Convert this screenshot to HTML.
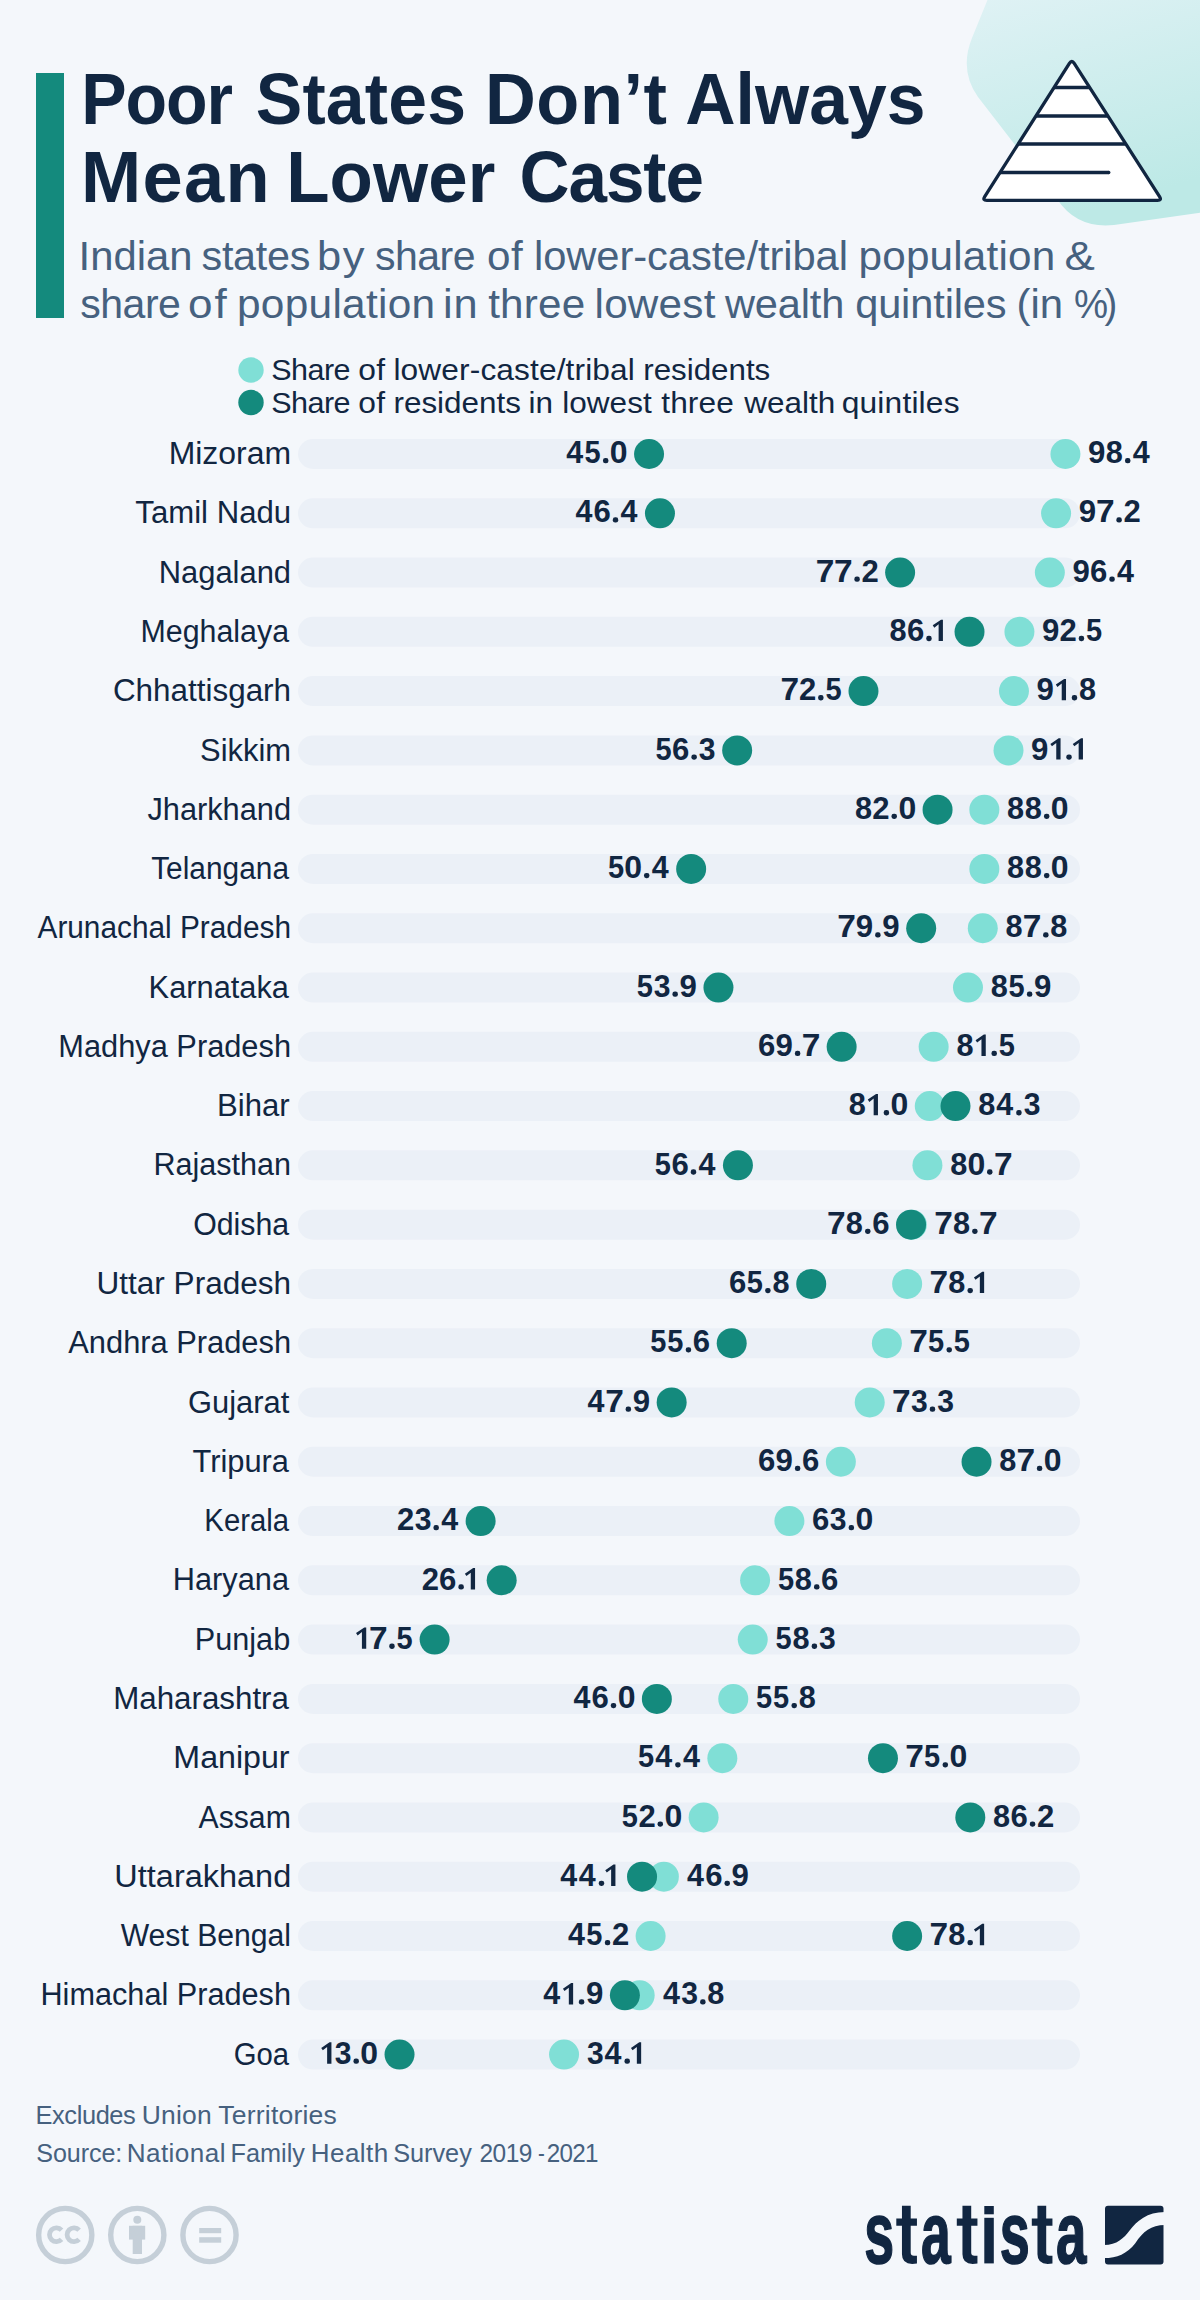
<!DOCTYPE html>
<html><head><meta charset="utf-8"><title>Poor States Don’t Always Mean Lower Caste</title>
<style>
html,body{margin:0;padding:0;background:#f4f7fb;}
body{width:1200px;height:2300px;overflow:hidden;}
svg{display:block;font-family:"Liberation Sans",sans-serif;}
</style></head><body>
<svg width="1200" height="2300" viewBox="0 0 1200 2300">
<rect width="1200" height="2300" fill="#f4f7fb"/>
<defs><linearGradient id="bg1" x1="0" y1="0" x2="0.3" y2="1"><stop offset="0" stop-color="#e0f2f5"/><stop offset="1" stop-color="#bde9e6"/></linearGradient></defs>
<path d="M 989.5,-5 L 972,38 Q 959,70 978,97 L 1057,199 Q 1077,229 1114,225 L 1205,212 L 1205,-5 Z" fill="url(#bg1)"/>
<path d="M1069.39,63.40 Q1071.80,59.60 1074.23,63.39 L1159.57,196.61 Q1162.00,200.40 1157.50,200.40 L986.80,200.40 Q982.30,200.40 984.71,196.60 Z" fill="#ffffff" stroke="#112641" stroke-width="3.3" stroke-linejoin="round"/>
<path d="M1054.07,87.5 L1089.67,87.5 M1035.95,116 L1107.93,116 M1018.15,144 L1125.87,144 M1000.03,172.5 L1108.80,172.5" fill="none" stroke="#112641" stroke-width="3.3" stroke-linecap="butt"/>
<circle cx="1108.8" cy="172.5" r="1.65" fill="#112641"/>
<rect x="36" y="73" width="28" height="245" fill="#148a7d"/>
<text transform="translate(81.28,123.75) scale(0.9360,1)" font-size="72.7" font-weight="700" fill="#112641" letter-spacing="-1.143">Poor</text>
<text transform="translate(255.71,123.75) scale(0.9604,1)" font-size="72.7" font-weight="700" fill="#112641" letter-spacing="0.172">States</text>
<text transform="translate(485.03,123.75) scale(0.9681,1)" font-size="72.7" font-weight="700" fill="#112641" letter-spacing="0.544">Don’t</text>
<text transform="translate(685.26,123.75) scale(0.9579,1)" font-size="72.7" font-weight="700" fill="#112641" letter-spacing="0.068">Always</text>
<text transform="translate(81.00,201.50) scale(0.9947,1)" font-size="72.7" font-weight="700" fill="#112641" letter-spacing="1.263">Mean</text>
<text transform="translate(286.19,201.50) scale(0.9757,1)" font-size="72.7" font-weight="700" fill="#112641" letter-spacing="0.097">Lower</text>
<text transform="translate(519.43,201.50) scale(0.9523,1)" font-size="72.7" font-weight="700" fill="#112641" letter-spacing="-1.067">Caste</text>
<text transform="translate(78.53,269.50) scale(1.0085,1)" font-size="41.5" font-weight="400" fill="#46617f" letter-spacing="-0.012">Indian</text>
<text transform="translate(201.56,269.50) scale(0.9956,1)" font-size="41.5" font-weight="400" fill="#46617f" letter-spacing="-0.288">states</text>
<text transform="translate(316.97,269.50) scale(1.0478,1)" font-size="41.5" font-weight="400" fill="#46617f" letter-spacing="1.577">by</text>
<text transform="translate(374.97,269.50) scale(0.9887,1)" font-size="41.5" font-weight="400" fill="#46617f" letter-spacing="-0.507">share</text>
<text transform="translate(487.11,269.50) scale(1.0182,1)" font-size="41.5" font-weight="400" fill="#46617f" letter-spacing="0.300">of</text>
<text transform="translate(533.99,269.50) scale(1.0051,1)" font-size="41.5" font-weight="400" fill="#46617f" letter-spacing="-0.071">lower-caste/tribal</text>
<text transform="translate(858.55,269.50) scale(1.0181,1)" font-size="41.5" font-weight="400" fill="#46617f" letter-spacing="0.186">population</text>
<text transform="translate(1064.41,269.50) scale(1.0971,1)" font-size="41.5" font-weight="400" fill="#46617f" letter-spacing="0.000">&amp;</text>
<text transform="translate(80.27,317.50) scale(0.9883,1)" font-size="41.5" font-weight="400" fill="#46617f" letter-spacing="-0.496">share</text>
<text transform="translate(188.04,317.50) scale(1.0619,1)" font-size="41.5" font-weight="400" fill="#46617f" letter-spacing="1.757">of</text>
<text transform="translate(236.94,317.50) scale(1.0219,1)" font-size="41.5" font-weight="400" fill="#46617f" letter-spacing="0.282">population</text>
<text transform="translate(442.88,317.50) scale(1.0469,1)" font-size="41.5" font-weight="400" fill="#46617f" letter-spacing="1.029">in</text>
<text transform="translate(488.17,317.50) scale(1.0169,1)" font-size="41.5" font-weight="400" fill="#46617f" letter-spacing="0.200">three</text>
<text transform="translate(594.55,317.50) scale(1.0178,1)" font-size="41.5" font-weight="400" fill="#46617f" letter-spacing="0.220">lowest</text>
<text transform="translate(725.00,317.50) scale(1.0018,1)" font-size="41.5" font-weight="400" fill="#46617f" letter-spacing="-0.149">wealth</text>
<text transform="translate(855.14,317.50) scale(1.0017,1)" font-size="41.5" font-weight="400" fill="#46617f" letter-spacing="-0.119">quintiles</text>
<text transform="translate(1016.49,317.50) scale(1.0093,1)" font-size="41.5" font-weight="400" fill="#46617f" letter-spacing="0.022">(in</text>
<text transform="translate(1073.96,317.50) scale(0.9247,1)" font-size="41.5" font-weight="400" fill="#46617f" letter-spacing="-3.864">%)</text>
<circle cx="251" cy="370" r="12.7" fill="#80dfd6"/>
<circle cx="251" cy="402.5" r="12.7" fill="#148a7d"/>
<text transform="translate(271.33,379.80) scale(1.0515,1)" font-size="29" font-weight="400" fill="#112641" letter-spacing="-0.527">Share</text>
<text transform="translate(358.23,379.80) scale(1.0940,1)" font-size="29" font-weight="400" fill="#112641" letter-spacing="0.254">of</text>
<text transform="translate(393.44,379.80) scale(1.0918,1)" font-size="29" font-weight="400" fill="#112641" letter-spacing="0.114">lower-caste/tribal</text>
<text transform="translate(643.26,379.80) scale(1.0809,1)" font-size="29" font-weight="400" fill="#112641" letter-spacing="-0.015">residents</text>
<text transform="translate(271.33,412.50) scale(1.0526,1)" font-size="29" font-weight="400" fill="#112641" letter-spacing="-0.547">Share</text>
<text transform="translate(358.23,412.50) scale(1.0952,1)" font-size="29" font-weight="400" fill="#112641" letter-spacing="0.229">of</text>
<text transform="translate(393.46,412.50) scale(1.0843,1)" font-size="29" font-weight="400" fill="#112641" letter-spacing="-0.002">residents</text>
<text transform="translate(528.46,412.50) scale(1.0848,1)" font-size="29" font-weight="400" fill="#112641" letter-spacing="0.007">in</text>
<text transform="translate(562.15,412.50) scale(1.0876,1)" font-size="29" font-weight="400" fill="#112641" letter-spacing="0.046">lowest</text>
<text transform="translate(661.22,412.50) scale(1.0920,1)" font-size="29" font-weight="400" fill="#112641" letter-spacing="0.113">three</text>
<text transform="translate(744.20,412.50) scale(1.0860,1)" font-size="29" font-weight="400" fill="#112641" letter-spacing="0.024">wealth</text>
<text transform="translate(841.73,412.50) scale(1.0961,1)" font-size="29" font-weight="400" fill="#112641" letter-spacing="0.140">quintiles</text>
<rect x="298" y="439.00" width="782" height="30" rx="15" fill="#ebf0f7"/>
<text x="168.65" y="464.10" font-size="30.6" font-weight="400" fill="#112641" textLength="122.39" lengthAdjust="spacingAndGlyphs">Mizoram</text>
<circle cx="1065.43" cy="454.00" r="15" fill="#80dfd6"/>
<circle cx="649.05" cy="454.00" r="15" fill="#148a7d"/>
<text transform="translate(566.19,463.20) scale(0.9828,1)" font-size="31.0" font-weight="700" fill="#112641">4</text>
<text transform="translate(584.48,463.20) scale(0.9355,1)" font-size="31.0" font-weight="700" fill="#112641">5</text>
<rect x="602.95" y="458.00" width="5.5" height="5.3" rx="2.4" fill="#112641"/>
<text transform="translate(609.87,463.20) scale(1.0323,1)" font-size="31.0" font-weight="700" fill="#112641">0</text>
<text transform="translate(1088.04,463.20) scale(1.0076,1)" font-size="31.0" font-weight="700" fill="#112641">9</text>
<text transform="translate(1105.76,463.20) scale(0.9906,1)" font-size="31.0" font-weight="700" fill="#112641">8</text>
<rect x="1124.98" y="458.00" width="5.5" height="5.3" rx="2.4" fill="#112641"/>
<text transform="translate(1132.73,463.20) scale(0.9828,1)" font-size="31.0" font-weight="700" fill="#112641">4</text>
<rect x="298" y="498.28" width="782" height="30" rx="15" fill="#ebf0f7"/>
<text x="135.38" y="523.38" font-size="30.6" font-weight="400" fill="#112641" textLength="155.71" lengthAdjust="spacingAndGlyphs">Tamil Nadu</text>
<circle cx="1056.08" cy="513.28" r="15" fill="#80dfd6"/>
<circle cx="659.96" cy="513.28" r="15" fill="#148a7d"/>
<text transform="translate(575.41,522.48) scale(0.9828,1)" font-size="31.0" font-weight="700" fill="#112641">4</text>
<text transform="translate(593.47,522.48) scale(1.0043,1)" font-size="31.0" font-weight="700" fill="#112641">6</text>
<rect x="612.76" y="517.28" width="5.5" height="5.3" rx="2.4" fill="#112641"/>
<text transform="translate(620.51,522.48) scale(0.9828,1)" font-size="31.0" font-weight="700" fill="#112641">4</text>
<text transform="translate(1078.68,522.48) scale(1.0076,1)" font-size="31.0" font-weight="700" fill="#112641">9</text>
<text transform="translate(1095.99,522.48) scale(1.0798,1)" font-size="31.0" font-weight="700" fill="#112641">7</text>
<rect x="1116.33" y="517.28" width="5.5" height="5.3" rx="2.4" fill="#112641"/>
<text transform="translate(1123.44,522.48) scale(1.0013,1)" font-size="31.0" font-weight="700" fill="#112641">2</text>
<rect x="298" y="557.56" width="782" height="30" rx="15" fill="#ebf0f7"/>
<text x="158.73" y="582.66" font-size="30.6" font-weight="400" fill="#112641" textLength="132.32" lengthAdjust="spacingAndGlyphs">Nagaland</text>
<circle cx="1049.84" cy="572.56" r="15" fill="#80dfd6"/>
<circle cx="900.13" cy="572.56" r="15" fill="#148a7d"/>
<text transform="translate(815.69,581.76) scale(1.0798,1)" font-size="31.0" font-weight="700" fill="#112641">7</text>
<text transform="translate(833.99,581.76) scale(1.0798,1)" font-size="31.0" font-weight="700" fill="#112641">7</text>
<rect x="854.33" y="576.56" width="5.5" height="5.3" rx="2.4" fill="#112641"/>
<text transform="translate(861.44,581.76) scale(1.0013,1)" font-size="31.0" font-weight="700" fill="#112641">2</text>
<text transform="translate(1072.45,581.76) scale(1.0076,1)" font-size="31.0" font-weight="700" fill="#112641">9</text>
<text transform="translate(1090.00,581.76) scale(1.0043,1)" font-size="31.0" font-weight="700" fill="#112641">6</text>
<rect x="1109.29" y="576.56" width="5.5" height="5.3" rx="2.4" fill="#112641"/>
<text transform="translate(1117.03,581.76) scale(0.9828,1)" font-size="31.0" font-weight="700" fill="#112641">4</text>
<rect x="298" y="616.84" width="782" height="30" rx="15" fill="#ebf0f7"/>
<text x="140.57" y="641.94" font-size="30.6" font-weight="400" fill="#112641" textLength="148.50" lengthAdjust="spacingAndGlyphs">Meghalaya</text>
<circle cx="1019.43" cy="631.84" r="15" fill="#80dfd6"/>
<circle cx="969.52" cy="631.84" r="15" fill="#148a7d"/>
<text transform="translate(889.50,641.04) scale(0.9906,1)" font-size="31.0" font-weight="700" fill="#112641">8</text>
<text transform="translate(906.94,641.04) scale(1.0043,1)" font-size="31.0" font-weight="700" fill="#112641">6</text>
<rect x="926.22" y="635.84" width="5.5" height="5.3" rx="2.4" fill="#112641"/>
<path d="M941.02,619.64 L942.92,619.64 L942.92,641.04 L938.62,641.04 L938.62,624.34 L934.32,627.64 L932.72,625.34 Z" fill="#112641"/>
<text transform="translate(1042.04,641.04) scale(1.0076,1)" font-size="31.0" font-weight="700" fill="#112641">9</text>
<text transform="translate(1059.59,641.04) scale(1.0013,1)" font-size="31.0" font-weight="700" fill="#112641">2</text>
<rect x="1078.68" y="635.84" width="5.5" height="5.3" rx="2.4" fill="#112641"/>
<text transform="translate(1086.01,641.04) scale(0.9355,1)" font-size="31.0" font-weight="700" fill="#112641">5</text>
<rect x="298" y="676.12" width="782" height="30" rx="15" fill="#ebf0f7"/>
<text x="112.93" y="701.22" font-size="30.6" font-weight="400" fill="#112641" textLength="178.11" lengthAdjust="spacingAndGlyphs">Chhattisgarh</text>
<circle cx="1013.97" cy="691.12" r="15" fill="#80dfd6"/>
<circle cx="863.48" cy="691.12" r="15" fill="#148a7d"/>
<text transform="translate(780.44,700.32) scale(1.0798,1)" font-size="31.0" font-weight="700" fill="#112641">7</text>
<text transform="translate(798.99,700.32) scale(1.0013,1)" font-size="31.0" font-weight="700" fill="#112641">2</text>
<rect x="818.08" y="695.12" width="5.5" height="5.3" rx="2.4" fill="#112641"/>
<text transform="translate(825.41,700.32) scale(0.9355,1)" font-size="31.0" font-weight="700" fill="#112641">5</text>
<text transform="translate(1036.58,700.32) scale(1.0076,1)" font-size="31.0" font-weight="700" fill="#112641">9</text>
<path d="M1064.12,678.92 L1066.02,678.92 L1066.02,700.32 L1061.72,700.32 L1061.72,683.62 L1057.42,686.92 L1055.82,684.62 Z" fill="#112641"/>
<rect x="1071.72" y="695.12" width="5.5" height="5.3" rx="2.4" fill="#112641"/>
<text transform="translate(1079.00,700.32) scale(0.9906,1)" font-size="31.0" font-weight="700" fill="#112641">8</text>
<rect x="298" y="735.40" width="782" height="30" rx="15" fill="#ebf0f7"/>
<text x="200.11" y="760.50" font-size="30.6" font-weight="400" fill="#112641" textLength="90.88" lengthAdjust="spacingAndGlyphs">Sikkim</text>
<circle cx="1008.51" cy="750.40" r="15" fill="#80dfd6"/>
<circle cx="737.16" cy="750.40" r="15" fill="#148a7d"/>
<text transform="translate(655.39,759.60) scale(0.9355,1)" font-size="31.0" font-weight="700" fill="#112641">5</text>
<text transform="translate(672.07,759.60) scale(1.0043,1)" font-size="31.0" font-weight="700" fill="#112641">6</text>
<rect x="691.36" y="754.40" width="5.5" height="5.3" rx="2.4" fill="#112641"/>
<text transform="translate(698.81,759.60) scale(0.9710,1)" font-size="31.0" font-weight="700" fill="#112641">3</text>
<text transform="translate(1031.12,759.60) scale(1.0076,1)" font-size="31.0" font-weight="700" fill="#112641">9</text>
<path d="M1058.66,738.20 L1060.56,738.20 L1060.56,759.60 L1056.26,759.60 L1056.26,742.90 L1051.96,746.20 L1050.36,743.90 Z" fill="#112641"/>
<rect x="1066.26" y="754.40" width="5.5" height="5.3" rx="2.4" fill="#112641"/>
<path d="M1081.06,738.20 L1082.96,738.20 L1082.96,759.60 L1078.66,759.60 L1078.66,742.90 L1074.36,746.20 L1072.76,743.90 Z" fill="#112641"/>
<rect x="298" y="794.68" width="782" height="30" rx="15" fill="#ebf0f7"/>
<text x="147.44" y="819.78" font-size="30.6" font-weight="400" fill="#112641" textLength="143.56" lengthAdjust="spacingAndGlyphs">Jharkhand</text>
<circle cx="984.34" cy="809.68" r="15" fill="#80dfd6"/>
<circle cx="937.56" cy="809.68" r="15" fill="#148a7d"/>
<text transform="translate(854.93,818.88) scale(0.9906,1)" font-size="31.0" font-weight="700" fill="#112641">8</text>
<text transform="translate(872.37,818.88) scale(1.0013,1)" font-size="31.0" font-weight="700" fill="#112641">2</text>
<rect x="891.46" y="813.68" width="5.5" height="5.3" rx="2.4" fill="#112641"/>
<text transform="translate(898.38,818.88) scale(1.0323,1)" font-size="31.0" font-weight="700" fill="#112641">0</text>
<text transform="translate(1007.12,818.88) scale(0.9906,1)" font-size="31.0" font-weight="700" fill="#112641">8</text>
<text transform="translate(1024.72,818.88) scale(0.9906,1)" font-size="31.0" font-weight="700" fill="#112641">8</text>
<rect x="1043.94" y="813.68" width="5.5" height="5.3" rx="2.4" fill="#112641"/>
<text transform="translate(1050.86,818.88) scale(1.0323,1)" font-size="31.0" font-weight="700" fill="#112641">0</text>
<rect x="298" y="853.96" width="782" height="30" rx="15" fill="#ebf0f7"/>
<text x="151.20" y="879.06" font-size="30.6" font-weight="400" fill="#112641" textLength="137.81" lengthAdjust="spacingAndGlyphs">Telangana</text>
<circle cx="984.34" cy="868.96" r="15" fill="#80dfd6"/>
<circle cx="691.15" cy="868.96" r="15" fill="#148a7d"/>
<text transform="translate(607.88,878.16) scale(0.9355,1)" font-size="31.0" font-weight="700" fill="#112641">5</text>
<text transform="translate(624.37,878.16) scale(1.0323,1)" font-size="31.0" font-weight="700" fill="#112641">0</text>
<rect x="643.95" y="872.96" width="5.5" height="5.3" rx="2.4" fill="#112641"/>
<text transform="translate(651.70,878.16) scale(0.9828,1)" font-size="31.0" font-weight="700" fill="#112641">4</text>
<text transform="translate(1007.12,878.16) scale(0.9906,1)" font-size="31.0" font-weight="700" fill="#112641">8</text>
<text transform="translate(1024.72,878.16) scale(0.9906,1)" font-size="31.0" font-weight="700" fill="#112641">8</text>
<rect x="1043.94" y="872.96" width="5.5" height="5.3" rx="2.4" fill="#112641"/>
<text transform="translate(1050.86,878.16) scale(1.0323,1)" font-size="31.0" font-weight="700" fill="#112641">0</text>
<rect x="298" y="913.24" width="782" height="30" rx="15" fill="#ebf0f7"/>
<text x="37.50" y="938.34" font-size="30.6" font-weight="400" fill="#112641" textLength="253.46" lengthAdjust="spacingAndGlyphs">Arunachal Pradesh</text>
<circle cx="982.78" cy="928.24" r="15" fill="#80dfd6"/>
<circle cx="921.18" cy="928.24" r="15" fill="#148a7d"/>
<text transform="translate(837.24,937.44) scale(1.0798,1)" font-size="31.0" font-weight="700" fill="#112641">7</text>
<text transform="translate(855.79,937.44) scale(1.0076,1)" font-size="31.0" font-weight="700" fill="#112641">9</text>
<rect x="875.13" y="932.24" width="5.5" height="5.3" rx="2.4" fill="#112641"/>
<text transform="translate(882.24,937.44) scale(1.0076,1)" font-size="31.0" font-weight="700" fill="#112641">9</text>
<text transform="translate(1005.56,937.44) scale(0.9906,1)" font-size="31.0" font-weight="700" fill="#112641">8</text>
<text transform="translate(1022.74,937.44) scale(1.0798,1)" font-size="31.0" font-weight="700" fill="#112641">7</text>
<rect x="1043.08" y="932.24" width="5.5" height="5.3" rx="2.4" fill="#112641"/>
<text transform="translate(1050.36,937.44) scale(0.9906,1)" font-size="31.0" font-weight="700" fill="#112641">8</text>
<rect x="298" y="972.52" width="782" height="30" rx="15" fill="#ebf0f7"/>
<text x="148.64" y="997.62" font-size="30.6" font-weight="400" fill="#112641" textLength="140.32" lengthAdjust="spacingAndGlyphs">Karnataka</text>
<circle cx="967.97" cy="987.52" r="15" fill="#80dfd6"/>
<circle cx="718.45" cy="987.52" r="15" fill="#148a7d"/>
<text transform="translate(636.63,996.72) scale(0.9355,1)" font-size="31.0" font-weight="700" fill="#112641">5</text>
<text transform="translate(653.64,996.72) scale(0.9710,1)" font-size="31.0" font-weight="700" fill="#112641">3</text>
<rect x="672.40" y="991.52" width="5.5" height="5.3" rx="2.4" fill="#112641"/>
<text transform="translate(679.50,996.72) scale(1.0076,1)" font-size="31.0" font-weight="700" fill="#112641">9</text>
<text transform="translate(990.74,996.72) scale(0.9906,1)" font-size="31.0" font-weight="700" fill="#112641">8</text>
<text transform="translate(1008.40,996.72) scale(0.9355,1)" font-size="31.0" font-weight="700" fill="#112641">5</text>
<rect x="1026.87" y="991.52" width="5.5" height="5.3" rx="2.4" fill="#112641"/>
<text transform="translate(1033.97,996.72) scale(1.0076,1)" font-size="31.0" font-weight="700" fill="#112641">9</text>
<rect x="298" y="1031.80" width="782" height="30" rx="15" fill="#ebf0f7"/>
<text x="58.34" y="1056.90" font-size="30.6" font-weight="400" fill="#112641" textLength="232.67" lengthAdjust="spacingAndGlyphs">Madhya Pradesh</text>
<circle cx="933.66" cy="1046.80" r="15" fill="#80dfd6"/>
<circle cx="841.65" cy="1046.80" r="15" fill="#148a7d"/>
<text transform="translate(758.01,1056.00) scale(1.0043,1)" font-size="31.0" font-weight="700" fill="#112641">6</text>
<text transform="translate(775.50,1056.00) scale(1.0076,1)" font-size="31.0" font-weight="700" fill="#112641">9</text>
<rect x="794.85" y="1050.80" width="5.5" height="5.3" rx="2.4" fill="#112641"/>
<text transform="translate(801.71,1056.00) scale(1.0798,1)" font-size="31.0" font-weight="700" fill="#112641">7</text>
<text transform="translate(956.44,1056.00) scale(0.9906,1)" font-size="31.0" font-weight="700" fill="#112641">8</text>
<path d="M983.86,1034.60 L985.76,1034.60 L985.76,1056.00 L981.46,1056.00 L981.46,1039.30 L977.16,1042.60 L975.56,1040.30 Z" fill="#112641"/>
<rect x="991.46" y="1050.80" width="5.5" height="5.3" rx="2.4" fill="#112641"/>
<text transform="translate(998.79,1056.00) scale(0.9355,1)" font-size="31.0" font-weight="700" fill="#112641">5</text>
<rect x="298" y="1091.08" width="782" height="30" rx="15" fill="#ebf0f7"/>
<text x="217.01" y="1116.18" font-size="30.6" font-weight="400" fill="#112641" textLength="72.60" lengthAdjust="spacingAndGlyphs">Bihar</text>
<circle cx="929.76" cy="1106.08" r="15" fill="#80dfd6"/>
<circle cx="955.49" cy="1106.08" r="15" fill="#148a7d"/>
<text transform="translate(848.64,1115.28) scale(0.9906,1)" font-size="31.0" font-weight="700" fill="#112641">8</text>
<path d="M876.06,1093.88 L877.96,1093.88 L877.96,1115.28 L873.66,1115.28 L873.66,1098.58 L869.36,1101.88 L867.76,1099.58 Z" fill="#112641"/>
<rect x="883.66" y="1110.08" width="5.5" height="5.3" rx="2.4" fill="#112641"/>
<text transform="translate(890.58,1115.28) scale(1.0323,1)" font-size="31.0" font-weight="700" fill="#112641">0</text>
<text transform="translate(978.27,1115.28) scale(0.9906,1)" font-size="31.0" font-weight="700" fill="#112641">8</text>
<text transform="translate(996.33,1115.28) scale(0.9828,1)" font-size="31.0" font-weight="700" fill="#112641">4</text>
<rect x="1016.19" y="1110.08" width="5.5" height="5.3" rx="2.4" fill="#112641"/>
<text transform="translate(1023.64,1115.28) scale(0.9710,1)" font-size="31.0" font-weight="700" fill="#112641">3</text>
<rect x="298" y="1150.36" width="782" height="30" rx="15" fill="#ebf0f7"/>
<text x="153.56" y="1175.46" font-size="30.6" font-weight="400" fill="#112641" textLength="137.52" lengthAdjust="spacingAndGlyphs">Rajasthan</text>
<circle cx="927.42" cy="1165.36" r="15" fill="#80dfd6"/>
<circle cx="737.94" cy="1165.36" r="15" fill="#148a7d"/>
<text transform="translate(654.77,1174.56) scale(0.9355,1)" font-size="31.0" font-weight="700" fill="#112641">5</text>
<text transform="translate(671.45,1174.56) scale(1.0043,1)" font-size="31.0" font-weight="700" fill="#112641">6</text>
<rect x="690.74" y="1169.36" width="5.5" height="5.3" rx="2.4" fill="#112641"/>
<text transform="translate(698.48,1174.56) scale(0.9828,1)" font-size="31.0" font-weight="700" fill="#112641">4</text>
<text transform="translate(950.20,1174.56) scale(0.9906,1)" font-size="31.0" font-weight="700" fill="#112641">8</text>
<text transform="translate(967.44,1174.56) scale(1.0323,1)" font-size="31.0" font-weight="700" fill="#112641">0</text>
<rect x="987.02" y="1169.36" width="5.5" height="5.3" rx="2.4" fill="#112641"/>
<text transform="translate(993.88,1174.56) scale(1.0798,1)" font-size="31.0" font-weight="700" fill="#112641">7</text>
<rect x="298" y="1209.64" width="782" height="30" rx="15" fill="#ebf0f7"/>
<text x="193.14" y="1234.74" font-size="30.6" font-weight="400" fill="#112641" textLength="95.97" lengthAdjust="spacingAndGlyphs">Odisha</text>
<circle cx="911.82" cy="1224.64" r="15" fill="#80dfd6"/>
<circle cx="911.04" cy="1224.64" r="15" fill="#148a7d"/>
<text transform="translate(827.10,1233.84) scale(1.0798,1)" font-size="31.0" font-weight="700" fill="#112641">7</text>
<text transform="translate(845.82,1233.84) scale(0.9906,1)" font-size="31.0" font-weight="700" fill="#112641">8</text>
<rect x="865.04" y="1228.64" width="5.5" height="5.3" rx="2.4" fill="#112641"/>
<text transform="translate(872.15,1233.84) scale(1.0043,1)" font-size="31.0" font-weight="700" fill="#112641">6</text>
<text transform="translate(934.18,1233.84) scale(1.0798,1)" font-size="31.0" font-weight="700" fill="#112641">7</text>
<text transform="translate(952.90,1233.84) scale(0.9906,1)" font-size="31.0" font-weight="700" fill="#112641">8</text>
<rect x="972.12" y="1228.64" width="5.5" height="5.3" rx="2.4" fill="#112641"/>
<text transform="translate(978.98,1233.84) scale(1.0798,1)" font-size="31.0" font-weight="700" fill="#112641">7</text>
<rect x="298" y="1268.92" width="782" height="30" rx="15" fill="#ebf0f7"/>
<text x="96.54" y="1294.02" font-size="30.6" font-weight="400" fill="#112641" textLength="194.50" lengthAdjust="spacingAndGlyphs">Uttar Pradesh</text>
<circle cx="907.14" cy="1283.92" r="15" fill="#80dfd6"/>
<circle cx="811.24" cy="1283.92" r="15" fill="#148a7d"/>
<text transform="translate(728.95,1293.12) scale(1.0043,1)" font-size="31.0" font-weight="700" fill="#112641">6</text>
<text transform="translate(746.67,1293.12) scale(0.9355,1)" font-size="31.0" font-weight="700" fill="#112641">5</text>
<rect x="765.14" y="1287.92" width="5.5" height="5.3" rx="2.4" fill="#112641"/>
<text transform="translate(772.41,1293.12) scale(0.9906,1)" font-size="31.0" font-weight="700" fill="#112641">8</text>
<text transform="translate(929.51,1293.12) scale(1.0798,1)" font-size="31.0" font-weight="700" fill="#112641">7</text>
<text transform="translate(948.22,1293.12) scale(0.9906,1)" font-size="31.0" font-weight="700" fill="#112641">8</text>
<rect x="967.44" y="1287.92" width="5.5" height="5.3" rx="2.4" fill="#112641"/>
<path d="M982.24,1271.72 L984.14,1271.72 L984.14,1293.12 L979.84,1293.12 L979.84,1276.42 L975.54,1279.72 L973.94,1277.42 Z" fill="#112641"/>
<rect x="298" y="1328.20" width="782" height="30" rx="15" fill="#ebf0f7"/>
<text x="68.30" y="1353.30" font-size="30.6" font-weight="400" fill="#112641" textLength="222.78" lengthAdjust="spacingAndGlyphs">Andhra Pradesh</text>
<circle cx="886.87" cy="1343.20" r="15" fill="#80dfd6"/>
<circle cx="731.70" cy="1343.20" r="15" fill="#148a7d"/>
<text transform="translate(650.33,1352.40) scale(0.9355,1)" font-size="31.0" font-weight="700" fill="#112641">5</text>
<text transform="translate(667.23,1352.40) scale(0.9355,1)" font-size="31.0" font-weight="700" fill="#112641">5</text>
<rect x="685.70" y="1347.20" width="5.5" height="5.3" rx="2.4" fill="#112641"/>
<text transform="translate(692.81,1352.40) scale(1.0043,1)" font-size="31.0" font-weight="700" fill="#112641">6</text>
<text transform="translate(909.23,1352.40) scale(1.0798,1)" font-size="31.0" font-weight="700" fill="#112641">7</text>
<text transform="translate(928.00,1352.40) scale(0.9355,1)" font-size="31.0" font-weight="700" fill="#112641">5</text>
<rect x="946.47" y="1347.20" width="5.5" height="5.3" rx="2.4" fill="#112641"/>
<text transform="translate(953.80,1352.40) scale(0.9355,1)" font-size="31.0" font-weight="700" fill="#112641">5</text>
<rect x="298" y="1387.48" width="782" height="30" rx="15" fill="#ebf0f7"/>
<text x="188.06" y="1412.58" font-size="30.6" font-weight="400" fill="#112641" textLength="101.23" lengthAdjust="spacingAndGlyphs">Gujarat</text>
<circle cx="869.72" cy="1402.48" r="15" fill="#80dfd6"/>
<circle cx="671.66" cy="1402.48" r="15" fill="#148a7d"/>
<text transform="translate(587.45,1411.68) scale(0.9828,1)" font-size="31.0" font-weight="700" fill="#112641">4</text>
<text transform="translate(605.27,1411.68) scale(1.0798,1)" font-size="31.0" font-weight="700" fill="#112641">7</text>
<rect x="625.61" y="1406.48" width="5.5" height="5.3" rx="2.4" fill="#112641"/>
<text transform="translate(632.72,1411.68) scale(1.0076,1)" font-size="31.0" font-weight="700" fill="#112641">9</text>
<text transform="translate(892.08,1411.68) scale(1.0798,1)" font-size="31.0" font-weight="700" fill="#112641">7</text>
<text transform="translate(910.96,1411.68) scale(0.9710,1)" font-size="31.0" font-weight="700" fill="#112641">3</text>
<rect x="929.72" y="1406.48" width="5.5" height="5.3" rx="2.4" fill="#112641"/>
<text transform="translate(937.16,1411.68) scale(0.9710,1)" font-size="31.0" font-weight="700" fill="#112641">3</text>
<rect x="298" y="1446.76" width="782" height="30" rx="15" fill="#ebf0f7"/>
<text x="192.48" y="1471.86" font-size="30.6" font-weight="400" fill="#112641" textLength="96.53" lengthAdjust="spacingAndGlyphs">Tripura</text>
<circle cx="840.87" cy="1461.76" r="15" fill="#80dfd6"/>
<circle cx="976.54" cy="1461.76" r="15" fill="#148a7d"/>
<text transform="translate(758.03,1470.96) scale(1.0043,1)" font-size="31.0" font-weight="700" fill="#112641">6</text>
<text transform="translate(775.52,1470.96) scale(1.0076,1)" font-size="31.0" font-weight="700" fill="#112641">9</text>
<rect x="794.87" y="1465.76" width="5.5" height="5.3" rx="2.4" fill="#112641"/>
<text transform="translate(801.98,1470.96) scale(1.0043,1)" font-size="31.0" font-weight="700" fill="#112641">6</text>
<text transform="translate(999.32,1470.96) scale(0.9906,1)" font-size="31.0" font-weight="700" fill="#112641">8</text>
<text transform="translate(1016.50,1470.96) scale(1.0798,1)" font-size="31.0" font-weight="700" fill="#112641">7</text>
<rect x="1036.84" y="1465.76" width="5.5" height="5.3" rx="2.4" fill="#112641"/>
<text transform="translate(1043.76,1470.96) scale(1.0323,1)" font-size="31.0" font-weight="700" fill="#112641">0</text>
<rect x="298" y="1506.04" width="782" height="30" rx="15" fill="#ebf0f7"/>
<text x="204.36" y="1531.14" font-size="30.6" font-weight="400" fill="#112641" textLength="84.67" lengthAdjust="spacingAndGlyphs">Kerala</text>
<circle cx="789.40" cy="1521.04" r="15" fill="#80dfd6"/>
<circle cx="480.62" cy="1521.04" r="15" fill="#148a7d"/>
<text transform="translate(397.04,1530.24) scale(1.0013,1)" font-size="31.0" font-weight="700" fill="#112641">2</text>
<text transform="translate(414.67,1530.24) scale(0.9710,1)" font-size="31.0" font-weight="700" fill="#112641">3</text>
<rect x="433.42" y="1525.04" width="5.5" height="5.3" rx="2.4" fill="#112641"/>
<text transform="translate(441.16,1530.24) scale(0.9828,1)" font-size="31.0" font-weight="700" fill="#112641">4</text>
<text transform="translate(812.01,1530.24) scale(1.0043,1)" font-size="31.0" font-weight="700" fill="#112641">6</text>
<text transform="translate(829.85,1530.24) scale(0.9710,1)" font-size="31.0" font-weight="700" fill="#112641">3</text>
<rect x="848.60" y="1525.04" width="5.5" height="5.3" rx="2.4" fill="#112641"/>
<text transform="translate(855.52,1530.24) scale(1.0323,1)" font-size="31.0" font-weight="700" fill="#112641">0</text>
<rect x="298" y="1565.32" width="782" height="30" rx="15" fill="#ebf0f7"/>
<text x="172.74" y="1590.42" font-size="30.6" font-weight="400" fill="#112641" textLength="116.26" lengthAdjust="spacingAndGlyphs">Haryana</text>
<circle cx="755.09" cy="1580.32" r="15" fill="#80dfd6"/>
<circle cx="501.67" cy="1580.32" r="15" fill="#148a7d"/>
<text transform="translate(421.79,1589.52) scale(1.0013,1)" font-size="31.0" font-weight="700" fill="#112641">2</text>
<text transform="translate(439.09,1589.52) scale(1.0043,1)" font-size="31.0" font-weight="700" fill="#112641">6</text>
<rect x="458.37" y="1584.32" width="5.5" height="5.3" rx="2.4" fill="#112641"/>
<path d="M473.17,1568.12 L475.07,1568.12 L475.07,1589.52 L470.77,1589.52 L470.77,1572.82 L466.47,1576.12 L464.87,1573.82 Z" fill="#112641"/>
<text transform="translate(777.92,1589.52) scale(0.9355,1)" font-size="31.0" font-weight="700" fill="#112641">5</text>
<text transform="translate(794.77,1589.52) scale(0.9906,1)" font-size="31.0" font-weight="700" fill="#112641">8</text>
<rect x="813.99" y="1584.32" width="5.5" height="5.3" rx="2.4" fill="#112641"/>
<text transform="translate(821.10,1589.52) scale(1.0043,1)" font-size="31.0" font-weight="700" fill="#112641">6</text>
<rect x="298" y="1624.60" width="782" height="30" rx="15" fill="#ebf0f7"/>
<text x="194.85" y="1649.70" font-size="30.6" font-weight="400" fill="#112641" textLength="95.34" lengthAdjust="spacingAndGlyphs">Punjab</text>
<circle cx="752.75" cy="1639.60" r="15" fill="#80dfd6"/>
<circle cx="434.62" cy="1639.60" r="15" fill="#148a7d"/>
<path d="M364.32,1627.40 L366.22,1627.40 L366.22,1648.80 L361.92,1648.80 L361.92,1632.10 L357.62,1635.40 L356.02,1633.10 Z" fill="#112641"/>
<text transform="translate(368.88,1648.80) scale(1.0798,1)" font-size="31.0" font-weight="700" fill="#112641">7</text>
<rect x="389.22" y="1643.60" width="5.5" height="5.3" rx="2.4" fill="#112641"/>
<text transform="translate(396.55,1648.80) scale(0.9355,1)" font-size="31.0" font-weight="700" fill="#112641">5</text>
<text transform="translate(775.58,1648.80) scale(0.9355,1)" font-size="31.0" font-weight="700" fill="#112641">5</text>
<text transform="translate(792.43,1648.80) scale(0.9906,1)" font-size="31.0" font-weight="700" fill="#112641">8</text>
<rect x="811.65" y="1643.60" width="5.5" height="5.3" rx="2.4" fill="#112641"/>
<text transform="translate(819.10,1648.80) scale(0.9710,1)" font-size="31.0" font-weight="700" fill="#112641">3</text>
<rect x="298" y="1683.88" width="782" height="30" rx="15" fill="#ebf0f7"/>
<text x="113.20" y="1708.98" font-size="30.6" font-weight="400" fill="#112641" textLength="175.77" lengthAdjust="spacingAndGlyphs">Maharashtra</text>
<circle cx="733.26" cy="1698.88" r="15" fill="#80dfd6"/>
<circle cx="656.85" cy="1698.88" r="15" fill="#148a7d"/>
<text transform="translate(573.39,1708.08) scale(0.9828,1)" font-size="31.0" font-weight="700" fill="#112641">4</text>
<text transform="translate(591.46,1708.08) scale(1.0043,1)" font-size="31.0" font-weight="700" fill="#112641">6</text>
<rect x="610.75" y="1702.88" width="5.5" height="5.3" rx="2.4" fill="#112641"/>
<text transform="translate(617.67,1708.08) scale(1.0323,1)" font-size="31.0" font-weight="700" fill="#112641">0</text>
<text transform="translate(756.09,1708.08) scale(0.9355,1)" font-size="31.0" font-weight="700" fill="#112641">5</text>
<text transform="translate(772.99,1708.08) scale(0.9355,1)" font-size="31.0" font-weight="700" fill="#112641">5</text>
<rect x="791.46" y="1702.88" width="5.5" height="5.3" rx="2.4" fill="#112641"/>
<text transform="translate(798.74,1708.08) scale(0.9906,1)" font-size="31.0" font-weight="700" fill="#112641">8</text>
<rect x="298" y="1743.16" width="782" height="30" rx="15" fill="#ebf0f7"/>
<text x="173.33" y="1768.26" font-size="30.6" font-weight="400" fill="#112641" textLength="116.25" lengthAdjust="spacingAndGlyphs">Manipur</text>
<circle cx="722.34" cy="1758.16" r="15" fill="#80dfd6"/>
<circle cx="882.97" cy="1758.16" r="15" fill="#148a7d"/>
<text transform="translate(637.97,1767.36) scale(0.9355,1)" font-size="31.0" font-weight="700" fill="#112641">5</text>
<text transform="translate(655.29,1767.36) scale(0.9828,1)" font-size="31.0" font-weight="700" fill="#112641">4</text>
<rect x="675.14" y="1762.16" width="5.5" height="5.3" rx="2.4" fill="#112641"/>
<text transform="translate(682.89,1767.36) scale(0.9828,1)" font-size="31.0" font-weight="700" fill="#112641">4</text>
<text transform="translate(905.33,1767.36) scale(1.0798,1)" font-size="31.0" font-weight="700" fill="#112641">7</text>
<text transform="translate(924.10,1767.36) scale(0.9355,1)" font-size="31.0" font-weight="700" fill="#112641">5</text>
<rect x="942.57" y="1762.16" width="5.5" height="5.3" rx="2.4" fill="#112641"/>
<text transform="translate(949.49,1767.36) scale(1.0323,1)" font-size="31.0" font-weight="700" fill="#112641">0</text>
<rect x="298" y="1802.44" width="782" height="30" rx="15" fill="#ebf0f7"/>
<text x="198.50" y="1827.54" font-size="30.6" font-weight="400" fill="#112641" textLength="92.35" lengthAdjust="spacingAndGlyphs">Assam</text>
<circle cx="703.63" cy="1817.44" r="15" fill="#80dfd6"/>
<circle cx="970.30" cy="1817.44" r="15" fill="#148a7d"/>
<text transform="translate(621.76,1826.64) scale(0.9355,1)" font-size="31.0" font-weight="700" fill="#112641">5</text>
<text transform="translate(638.44,1826.64) scale(1.0013,1)" font-size="31.0" font-weight="700" fill="#112641">2</text>
<rect x="657.53" y="1821.44" width="5.5" height="5.3" rx="2.4" fill="#112641"/>
<text transform="translate(664.45,1826.64) scale(1.0323,1)" font-size="31.0" font-weight="700" fill="#112641">0</text>
<text transform="translate(993.08,1826.64) scale(0.9906,1)" font-size="31.0" font-weight="700" fill="#112641">8</text>
<text transform="translate(1010.51,1826.64) scale(1.0043,1)" font-size="31.0" font-weight="700" fill="#112641">6</text>
<rect x="1029.80" y="1821.44" width="5.5" height="5.3" rx="2.4" fill="#112641"/>
<text transform="translate(1036.92,1826.64) scale(1.0013,1)" font-size="31.0" font-weight="700" fill="#112641">2</text>
<rect x="298" y="1861.72" width="782" height="30" rx="15" fill="#ebf0f7"/>
<text x="114.37" y="1886.82" font-size="30.6" font-weight="400" fill="#112641" textLength="176.84" lengthAdjust="spacingAndGlyphs">Uttarakhand</text>
<circle cx="663.86" cy="1876.72" r="15" fill="#80dfd6"/>
<circle cx="642.03" cy="1876.72" r="15" fill="#148a7d"/>
<text transform="translate(560.17,1885.92) scale(0.9828,1)" font-size="31.0" font-weight="700" fill="#112641">4</text>
<text transform="translate(578.87,1885.92) scale(0.9828,1)" font-size="31.0" font-weight="700" fill="#112641">4</text>
<rect x="598.73" y="1880.72" width="5.5" height="5.3" rx="2.4" fill="#112641"/>
<path d="M613.53,1864.52 L615.43,1864.52 L615.43,1885.92 L611.13,1885.92 L611.13,1869.22 L606.83,1872.52 L605.23,1870.22 Z" fill="#112641"/>
<text transform="translate(687.11,1885.92) scale(0.9828,1)" font-size="31.0" font-weight="700" fill="#112641">4</text>
<text transform="translate(705.17,1885.92) scale(1.0043,1)" font-size="31.0" font-weight="700" fill="#112641">6</text>
<rect x="724.46" y="1880.72" width="5.5" height="5.3" rx="2.4" fill="#112641"/>
<text transform="translate(731.57,1885.92) scale(1.0076,1)" font-size="31.0" font-weight="700" fill="#112641">9</text>
<rect x="298" y="1921.00" width="782" height="30" rx="15" fill="#ebf0f7"/>
<text x="120.65" y="1946.10" font-size="30.6" font-weight="400" fill="#112641" textLength="170.35" lengthAdjust="spacingAndGlyphs">West Bengal</text>
<circle cx="650.61" cy="1936.00" r="15" fill="#80dfd6"/>
<circle cx="907.14" cy="1936.00" r="15" fill="#148a7d"/>
<text transform="translate(568.05,1945.20) scale(0.9828,1)" font-size="31.0" font-weight="700" fill="#112641">4</text>
<text transform="translate(586.34,1945.20) scale(0.9355,1)" font-size="31.0" font-weight="700" fill="#112641">5</text>
<rect x="604.81" y="1940.00" width="5.5" height="5.3" rx="2.4" fill="#112641"/>
<text transform="translate(611.92,1945.20) scale(1.0013,1)" font-size="31.0" font-weight="700" fill="#112641">2</text>
<text transform="translate(929.51,1945.20) scale(1.0798,1)" font-size="31.0" font-weight="700" fill="#112641">7</text>
<text transform="translate(948.22,1945.20) scale(0.9906,1)" font-size="31.0" font-weight="700" fill="#112641">8</text>
<rect x="967.44" y="1940.00" width="5.5" height="5.3" rx="2.4" fill="#112641"/>
<path d="M982.24,1923.80 L984.14,1923.80 L984.14,1945.20 L979.84,1945.20 L979.84,1928.50 L975.54,1931.80 L973.94,1929.50 Z" fill="#112641"/>
<rect x="298" y="1980.28" width="782" height="30" rx="15" fill="#ebf0f7"/>
<text x="40.45" y="2005.38" font-size="30.6" font-weight="400" fill="#112641" textLength="250.57" lengthAdjust="spacingAndGlyphs">Himachal Pradesh</text>
<circle cx="639.69" cy="1995.28" r="15" fill="#80dfd6"/>
<circle cx="624.88" cy="1995.28" r="15" fill="#148a7d"/>
<text transform="translate(543.17,2004.48) scale(0.9828,1)" font-size="31.0" font-weight="700" fill="#112641">4</text>
<path d="M571.23,1983.08 L573.13,1983.08 L573.13,2004.48 L568.83,2004.48 L568.83,1987.78 L564.53,1991.08 L562.93,1988.78 Z" fill="#112641"/>
<rect x="578.83" y="1999.28" width="5.5" height="5.3" rx="2.4" fill="#112641"/>
<text transform="translate(585.93,2004.48) scale(1.0076,1)" font-size="31.0" font-weight="700" fill="#112641">9</text>
<text transform="translate(662.93,2004.48) scale(0.9828,1)" font-size="31.0" font-weight="700" fill="#112641">4</text>
<text transform="translate(681.34,2004.48) scale(0.9710,1)" font-size="31.0" font-weight="700" fill="#112641">3</text>
<rect x="700.09" y="1999.28" width="5.5" height="5.3" rx="2.4" fill="#112641"/>
<text transform="translate(707.37,2004.48) scale(0.9906,1)" font-size="31.0" font-weight="700" fill="#112641">8</text>
<rect x="298" y="2039.56" width="782" height="30" rx="15" fill="#ebf0f7"/>
<text x="233.64" y="2064.66" font-size="30.6" font-weight="400" fill="#112641" textLength="55.37" lengthAdjust="spacingAndGlyphs">Goa</text>
<circle cx="564.05" cy="2054.56" r="15" fill="#80dfd6"/>
<circle cx="399.53" cy="2054.56" r="15" fill="#148a7d"/>
<path d="M329.53,2042.36 L331.43,2042.36 L331.43,2063.76 L327.13,2063.76 L327.13,2047.06 L322.83,2050.36 L321.23,2048.06 Z" fill="#112641"/>
<text transform="translate(334.67,2063.76) scale(0.9710,1)" font-size="31.0" font-weight="700" fill="#112641">3</text>
<rect x="353.43" y="2058.56" width="5.5" height="5.3" rx="2.4" fill="#112641"/>
<text transform="translate(360.35,2063.76) scale(1.0323,1)" font-size="31.0" font-weight="700" fill="#112641">0</text>
<text transform="translate(587.00,2063.76) scale(0.9710,1)" font-size="31.0" font-weight="700" fill="#112641">3</text>
<text transform="translate(604.60,2063.76) scale(0.9828,1)" font-size="31.0" font-weight="700" fill="#112641">4</text>
<rect x="624.45" y="2058.56" width="5.5" height="5.3" rx="2.4" fill="#112641"/>
<path d="M639.25,2042.36 L641.15,2042.36 L641.15,2063.76 L636.85,2063.76 L636.85,2047.06 L632.55,2050.36 L630.95,2048.06 Z" fill="#112641"/>
<text transform="translate(35.47,2124.00) scale(0.9776,1)" font-size="26" font-weight="400" fill="#46617f" letter-spacing="-0.405">Excludes</text>
<text transform="translate(141.76,2124.00) scale(1.0184,1)" font-size="26" font-weight="400" fill="#46617f" letter-spacing="0.208">Union</text>
<text transform="translate(218.22,2124.00) scale(1.0227,1)" font-size="26" font-weight="400" fill="#46617f" letter-spacing="0.194">Territories</text>
<text transform="translate(36.37,2162.30) scale(0.9655,1)" font-size="26" font-weight="400" fill="#46617f" letter-spacing="-0.102">Source:</text>
<text transform="translate(126.66,2162.30) scale(1.0047,1)" font-size="26" font-weight="400" fill="#46617f" letter-spacing="0.434">National</text>
<text transform="translate(230.48,2162.30) scale(0.9728,1)" font-size="26" font-weight="400" fill="#46617f" letter-spacing="0.007">Family</text>
<text transform="translate(310.82,2162.30) scale(1.0014,1)" font-size="26" font-weight="400" fill="#46617f" letter-spacing="0.426">Health</text>
<text transform="translate(393.16,2162.30) scale(0.9725,1)" font-size="26" font-weight="400" fill="#46617f" letter-spacing="0.001">Survey</text>
<text transform="translate(479.58,2162.30) scale(0.9407,1)" font-size="26" font-weight="400" fill="#46617f" letter-spacing="-0.601">2019</text>
<text transform="translate(538.08,2162.30) scale(0.7849,1)" font-size="26" font-weight="400" fill="#46617f" letter-spacing="0.000">-</text>
<text transform="translate(546.79,2162.30) scale(0.9313,1)" font-size="26" font-weight="400" fill="#46617f" letter-spacing="-0.779">2021</text>
<circle cx="65.25" cy="2235" r="26.6" fill="none" stroke="#c5cfd8" stroke-width="5.4"/>
<circle cx="137.3" cy="2235" r="26.6" fill="none" stroke="#c5cfd8" stroke-width="5.4"/>
<circle cx="209.5" cy="2235" r="26.6" fill="none" stroke="#c5cfd8" stroke-width="5.4"/>
<path d="M61.53,2230.08 A6.9,6.9 0 1 0 61.53,2239.32" fill="none" stroke="#c5cfd8" stroke-width="4.8"/>
<path d="M79.13,2230.08 A6.9,6.9 0 1 0 79.13,2239.32" fill="none" stroke="#c5cfd8" stroke-width="4.8"/>
<circle cx="137.3" cy="2219.8" r="4" fill="#c5cfd8"/>
<rect x="129" y="2225.8" width="16.2" height="13.8" fill="#c5cfd8"/>
<rect x="132.7" y="2225.8" width="9.3" height="28.2" fill="#c5cfd8"/>
<rect x="199.2" y="2228" width="22" height="5.2" fill="#c5cfd8"/>
<rect x="199.2" y="2237.2" width="22" height="5.5" fill="#c5cfd8"/>
<text x="864.22" y="2262.60" font-size="86.5" font-weight="700" fill="#112641" textLength="29.89" lengthAdjust="spacingAndGlyphs" stroke="#112641" stroke-width="1.6" stroke-linejoin="round">s</text>
<path d="M 901.96,2205.83 L 910.71,2205.83 L 910.71,2218.38 L 916.95,2218.38 L 916.95,2225.67 L 910.71,2225.67 L 910.71,2252.51 Q 910.71,2255.72 913.92,2255.72 L 916.95,2255.72 L 916.95,2263.59 L 912.17,2263.89 Q 901.96,2263.89 901.96,2254.26 L 901.96,2225.67 L 896.30,2225.67 L 896.30,2218.38 L 901.96,2218.38 Z" fill="#112641"/>
<text x="921.00" y="2262.60" font-size="86.5" font-weight="700" fill="#112641" textLength="29.73" lengthAdjust="spacingAndGlyphs" stroke="#112641" stroke-width="1.6" stroke-linejoin="round">a</text>
<path d="M 962.46,2205.83 L 971.21,2205.83 L 971.21,2218.38 L 977.45,2218.38 L 977.45,2225.67 L 971.21,2225.67 L 971.21,2252.51 Q 971.21,2255.72 974.42,2255.72 L 977.45,2255.72 L 977.45,2263.59 L 972.67,2263.89 Q 962.46,2263.89 962.46,2254.26 L 962.46,2225.67 L 956.80,2225.67 L 956.80,2218.38 L 962.46,2218.38 Z" fill="#112641"/>
<rect x="984.3" y="2206" width="9.5" height="8.3" fill="#112641"/>
<rect x="984.3" y="2217.8" width="9.5" height="45.6" fill="#112641"/>
<text x="999.71" y="2262.60" font-size="86.5" font-weight="700" fill="#112641" textLength="30.01" lengthAdjust="spacingAndGlyphs" stroke="#112641" stroke-width="1.6" stroke-linejoin="round">s</text>
<path d="M 1037.46,2205.83 L 1046.21,2205.83 L 1046.21,2218.38 L 1052.45,2218.38 L 1052.45,2225.67 L 1046.21,2225.67 L 1046.21,2252.51 Q 1046.21,2255.72 1049.42,2255.72 L 1052.45,2255.72 L 1052.45,2263.59 L 1047.67,2263.89 Q 1037.46,2263.89 1037.46,2254.26 L 1037.46,2225.67 L 1031.80,2225.67 L 1031.80,2218.38 L 1037.46,2218.38 Z" fill="#112641"/>
<text x="1056.06" y="2262.60" font-size="86.5" font-weight="700" fill="#112641" textLength="30.46" lengthAdjust="spacingAndGlyphs" stroke="#112641" stroke-width="1.6" stroke-linejoin="round">a</text>
<g transform="translate(1105,2205.8)"><rect x="0" y="0" width="58.5" height="58.6" rx="3" fill="#112641"/><path d="M -1,39.2 C 12,39.2 19,32 24.6,24.6 C 32,15 42,6.1 60,6.1 L 60,19.3 C 46,19.3 38,26 30.3,37.4 C 22,48 12,52.3 -1,52.3 Z" fill="#f4f7fb"/></g>
</svg>
</body></html>
